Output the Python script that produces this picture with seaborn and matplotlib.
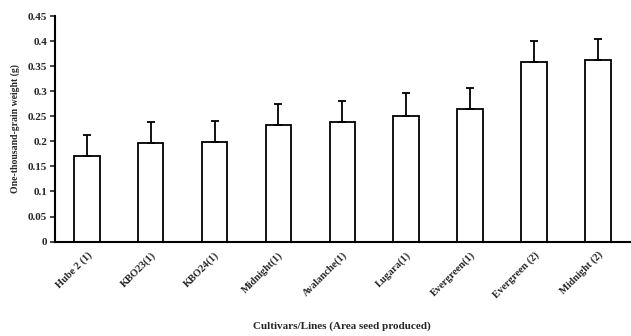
import numpy as np
import matplotlib
matplotlib.use('Agg')
import matplotlib.pyplot as plt
import seaborn as sns

# values
cultivars = ['Hube 2 (1)', 'KBO23(1)', 'KBO24(1)', 'Midnight(1)', 'Avalanche(1)',
             'Lugara(1)', 'Evergreen(1)', 'Evergreen (2)', 'Midnight (2)']
weights = [0.171, 0.197, 0.199, 0.233, 0.239, 0.251, 0.265, 0.358, 0.362]
errors = [0.041, 0.042, 0.042, 0.042, 0.042, 0.045, 0.041, 0.042, 0.042]

sns.set_style('white')
plt.rcParams['font.family'] = ['Liberation Serif', 'DejaVu Serif']
plt.rcParams['font.weight'] = 'bold'

fig = plt.figure(figsize=(6.31, 3.36), dpi=100)
ax = fig.add_axes([0.087, 0.281, 0.911, 0.671])

sns.barplot(x=cultivars, y=weights, color='white', edgecolor='black',
            linewidth=1.3, width=0.4, ax=ax)
ax.errorbar(x=np.arange(len(weights)), y=weights,
            yerr=[np.zeros(len(errors)), errors], fmt='none',
            ecolor='black', elinewidth=1.3, capsize=3, capthick=1.3)

ax.set_ylim(0, 0.45)
ax.set_xlim(-0.5, len(cultivars) - 0.5)
ax.set_yticks(np.arange(0, 0.451, 0.05))
ax.set_yticklabels(['0', '0.05', '0.1', '0.15', '0.2', '0.25', '0.3', '0.35', '0.4', '0.45'],
                   fontsize=8, fontweight='bold')
ax.set_xticks(np.arange(len(cultivars)))
ax.set_xticklabels(cultivars, rotation=45, ha='right', rotation_mode='anchor',
                   fontsize=7.5, fontweight='bold')
ax.set_xticks(np.arange(-0.5, len(cultivars), 1), minor=True)
ax.tick_params(axis='x', which='major', length=0, pad=6)
ax.tick_params(axis='x', which='minor', length=2.5, direction='in', width=1.2)
ax.tick_params(axis='y', length=3.5, width=1.2, direction='out', left=True, pad=2)

for s in ['top', 'right']:
    ax.spines[s].set_visible(False)
for s in ['left', 'bottom']:
    ax.spines[s].set_linewidth(1.5)
    ax.spines[s].set_color('black')

ax.set_ylabel('One-thousand-grain weight (g)', fontsize=7, fontweight='bold', labelpad=6)
ax.set_xlabel('Cultivars/Lines (Area seed produced)', fontsize=8, fontweight='bold')
ax.xaxis.set_label_coords(0.5, -0.355)

fig.savefig('out.png', dpi=100)
